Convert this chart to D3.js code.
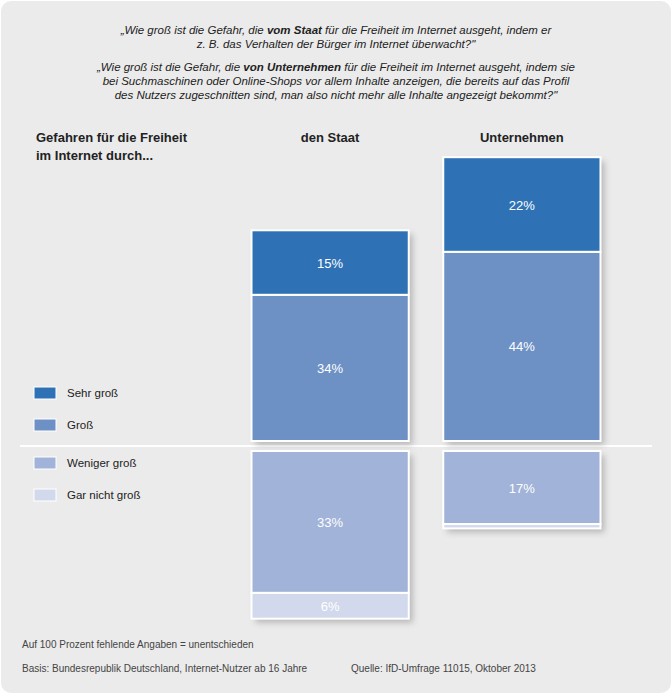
<!DOCTYPE html>
<html>
<head>
<meta charset="utf-8">
<script src="https://cdn.jsdelivr.net/npm/d3@7"></script>
<style>
  body { margin: 0; background: #fff; font-family: "Liberation Sans", Arial, sans-serif; }
</style>
</head>
<body>
<script>
// data
var groups = ["den Staat", "Unternehmen"];
var categories = ["Sehr groß", "Groß", "Weniger groß", "Gar nicht groß"];
var sehrGross = [15, 22];
var gross = [34, 44];
var wenigerGross = [33, 17];
var garNichtGross = [6, 1];
var colors = ["#2e72b5", "#6d91c5", "#a1b3d8", "#d2d9ec"];

var W = 672, H = 694, baseY = 446, gap = 5;
var svg = d3.select("body").append("svg").attr("width", W).attr("height", H);

var defs = svg.append("defs");
var f = defs.append("filter").attr("id", "sh").attr("x", "-10%").attr("y", "-10%").attr("width", "130%").attr("height", "130%");
f.append("feDropShadow").attr("dx", 4).attr("dy", 4).attr("stdDeviation", 3).attr("flood-color", "#000").attr("flood-opacity", 0.22);

svg.append("rect").attr("x", 1).attr("y", 1).attr("width", W - 2).attr("height", H - 2)
  .attr("rx", 10).attr("fill", "#ebebeb");

// question text
function line(y, parts) {
  var t = svg.append("text").attr("x", W / 2).attr("y", y).attr("text-anchor", "middle")
    .attr("font-size", 11.5).attr("font-style", "italic").attr("fill", "#222");
  parts.forEach(function (p) {
    t.append("tspan").attr("font-weight", p[1] ? "bold" : "normal").text(p[0]);
  });
}
line(34, [["„Wie groß ist die Gefahr, die "], ["vom Staat", 1], [" für die Freiheit im Internet ausgeht, indem er"]]);
line(48, [["z. B. das Verhalten der Bürger im Internet überwacht?\""]]);
line(71, [["„Wie groß ist die Gefahr, die "], ["von Unternehmen", 1], [" für die Freiheit im Internet ausgeht, indem sie"]]);
line(85, [["bei Suchmaschinen oder Online-Shops vor allem Inhalte anzeigen, die bereits auf das Profil"]]);
line(99, [["des Nutzers zugeschnitten sind, man also nicht mehr alle Inhalte angezeigt bekommt?\""]]);

svg.append("text").attr("x", 36).attr("y", 142).attr("font-size", 13).attr("font-weight", "bold").attr("fill", "#222").text("Gefahren für die Freiheit");
svg.append("text").attr("x", 36).attr("y", 160).attr("font-size", 13).attr("font-weight", "bold").attr("fill", "#222").text("im Internet durch...");

var x = d3.scaleBand().domain(groups).range([240, 612]).paddingInner(0.18).paddingOuter(0.06);
var h = d3.scaleLinear().domain([0, 100]).range([0, 430]);

groups.forEach(function (g) {
  svg.append("text").attr("x", x(g) + x.bandwidth() / 2).attr("y", 142).attr("text-anchor", "middle")
    .attr("font-size", 13).attr("font-weight", "bold").attr("fill", "#222").text(g);
});

// divider
svg.append("line").attr("x1", 20).attr("x2", 652).attr("y1", baseY).attr("y2", baseY)
  .attr("stroke", "#fff").attr("stroke-width", 2);

var series = [sehrGross, gross, wenigerGross, garNichtGross];
groups.forEach(function (g, i) {
  var up = [{ v: sehrGross[i], c: 0 }, { v: gross[i], c: 1 }];
  var down = [{ v: wenigerGross[i], c: 2 }, { v: garNichtGross[i], c: 3 }];
  var segs = [];
  var y = baseY - gap;
  for (var k = up.length - 1; k >= 0; k--) { y -= h(up[k].v); segs.push({ y: y, hh: h(up[k].v), v: up[k].v, c: up[k].c }); }
  var topUp = y;
  y = baseY + gap;
  down.forEach(function (d) { segs.push({ y: y, hh: h(d.v), v: d.v, c: d.c }); y += h(d.v); });
  var botDown = y;
  // shadows
  svg.append("rect").attr("x", x(g)).attr("y", topUp).attr("width", x.bandwidth()).attr("height", baseY - gap - topUp)
    .attr("fill", "#fff").attr("filter", "url(#sh)");
  svg.append("rect").attr("x", x(g)).attr("y", baseY + gap).attr("width", x.bandwidth()).attr("height", botDown - baseY - gap)
    .attr("fill", "#fff").attr("filter", "url(#sh)");
  svg.selectAll(null).data(segs).enter().append("rect")
    .attr("x", x(g)).attr("y", function (d) { return d.y; })
    .attr("width", x.bandwidth()).attr("height", function (d) { return d.hh; })
    .attr("fill", function (d) { return colors[d.c]; })
    .attr("stroke", "#fff").attr("stroke-width", 2);
  svg.selectAll(null).data(segs.filter(function (d) { return d.v >= 3; })).enter().append("text")
    .attr("x", x(g) + x.bandwidth() / 2).attr("y", function (d) { return d.y + d.hh / 2 + 5; })
    .attr("text-anchor", "middle").attr("font-size", 13).attr("fill", "#fff")
    .text(function (d) { return d.v + "%"; });
});

// legend
var ly = [393, 425, 463, 495];
categories.forEach(function (c, i) {
  svg.append("rect").attr("x", 34).attr("y", ly[i] - 6).attr("width", 22).attr("height", 12)
    .attr("fill", colors[i]).attr("stroke", "#fff").attr("stroke-width", 1);
  svg.append("text").attr("x", 67).attr("y", ly[i] + 4).attr("font-size", 11.5).attr("fill", "#222").text(c);
});

svg.append("text").attr("x", 22).attr("y", 648).attr("font-size", 10).attr("fill", "#444").text("Auf 100 Prozent fehlende Angaben = unentschieden");
svg.append("text").attr("x", 22).attr("y", 672).attr("font-size", 10).attr("fill", "#444").text("Basis: Bundesrepublik Deutschland, Internet-Nutzer ab 16 Jahre");
svg.append("text").attr("x", 351).attr("y", 672).attr("font-size", 10).attr("fill", "#444").text("Quelle: IfD-Umfrage 11015, Oktober 2013");
</script>
</body>
</html>
